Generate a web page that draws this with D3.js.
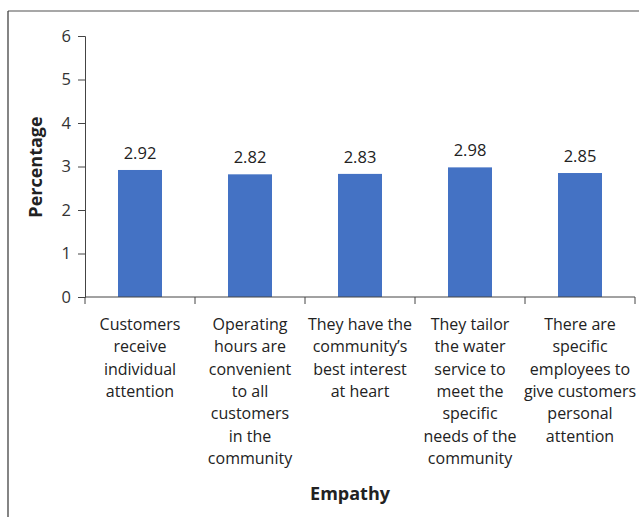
<!DOCTYPE html>
<html>
<head>
<meta charset="utf-8">
<script src="https://cdn.jsdelivr.net/npm/d3@7"></script>
<style>
  html, body { margin: 0; padding: 0; background: #fff; }
  svg { display: block; font-family: "Open Sans", Lato, sans-serif; }
</style>
</head>
<body>
<svg id="chart" width="639" height="517"></svg>
<script>
// Empathy dimension scores
const categories = [
  ["Customers", "receive", "individual", "attention"],
  ["Operating", "hours are", "convenient", "to all", "customers", "in the", "community"],
  ["They have the", "community\u2019s", "best interest", "at heart"],
  ["They tailor", "the water", "service to", "meet the", "specific", "needs of the", "community"],
  ["There are", "specific", "employees to", "give customers", "personal", "attention"]
];
const values = [2.92, 2.82, 2.83, 2.98, 2.85];
const yTicks = [0, 1, 2, 3, 4, 5, 6];
const yTitle = "Percentage";
const xTitle = "Empathy";

const FONT = "'Open Sans', Lato, sans-serif";
const svg = d3.select("#chart");
const plot = { left: 85, right: 635, top: 36, bottom: 297 };

// outer frame
svg.append("line").attr("x1", 8).attr("x2", 639).attr("y1", 11).attr("y2", 11)
  .attr("stroke", "#8a8a8a").attr("stroke-width", 1.5);
svg.append("line").attr("x1", 8).attr("x2", 8).attr("y1", 11).attr("y2", 517)
  .attr("stroke", "#333").attr("stroke-width", 1.2);

const x = d3.scaleBand().domain(d3.range(values.length))
  .range([plot.left, plot.right]).paddingInner(0.6).paddingOuter(0.3);
const xOuter = d3.scaleBand().domain(d3.range(values.length))
  .range([plot.left, plot.right]);
const y = d3.scaleLinear().domain([0, 6]).range([plot.bottom, plot.top]);

// bars
svg.append("g").selectAll("rect").data(values).join("rect")
  .attr("x", (d, i) => x(i))
  .attr("width", x.bandwidth())
  .attr("y", d => y(d))
  .attr("height", d => y(0) - y(d))
  .attr("fill", "#4472c4");

// value labels
svg.append("g").selectAll("text").data(values).join("text")
  .attr("x", (d, i) => x(i) + x.bandwidth() / 2)
  .attr("y", d => y(d) - 11)
  .attr("text-anchor", "middle")
  .attr("font-size", 16.5)
  .attr("fill", "#222")
  .text(d => d.toFixed(2));

// y axis
const yAxis = svg.append("g").attr("transform", `translate(${plot.left},0)`)
  .call(d3.axisLeft(y).tickValues(yTicks).tickFormat(d3.format("d")).tickSize(7).tickPadding(7));
yAxis.select(".domain").attr("stroke", "#444");
yAxis.selectAll(".tick line").attr("stroke", "#444");
yAxis.selectAll(".tick text").attr("font-size", 16.5).attr("fill", "#333")
  .attr("font-family", FONT);

// x axis with ticks at category boundaries
const xAxis = svg.append("g").attr("transform", `translate(0,${plot.bottom})`);
xAxis.append("line").attr("x1", plot.left).attr("x2", plot.right)
  .attr("y1", 0).attr("y2", 0).attr("stroke", "#444");
const bounds = d3.range(values.length + 1).map(i =>
  i < values.length ? xOuter(i) : xOuter(values.length - 1) + xOuter.bandwidth());
xAxis.selectAll("line.tk").data(bounds).join("line").attr("class", "tk")
  .attr("x1", d => d).attr("x2", d => d).attr("y1", 0).attr("y2", 7)
  .attr("stroke", "#444");

// category labels
const catG = svg.append("g");
categories.forEach((lines, i) => {
  const cx = xOuter(i) + xOuter.bandwidth() / 2;
  const t = catG.append("text")
    .attr("x", cx)
    .attr("y", 330)
    .attr("text-anchor", "middle")
    .attr("font-size", 16)
    .attr("fill", "#222");
  lines.forEach((ln, j) => {
    t.append("tspan").attr("x", cx).attr("dy", j === 0 ? 0 : 22.3).text(ln);
  });
});

// axis titles
svg.append("text")
  .attr("transform", `translate(42,167) rotate(-90)`)
  .attr("text-anchor", "middle")
  .attr("font-size", 18).attr("font-weight", "bold").attr("fill", "#222")
  .text(yTitle);
svg.append("text")
  .attr("x", 350).attr("y", 500)
  .attr("text-anchor", "middle")
  .attr("font-size", 18).attr("font-weight", "bold").attr("fill", "#222")
  .text(xTitle);
</script>
</body>
</html>
